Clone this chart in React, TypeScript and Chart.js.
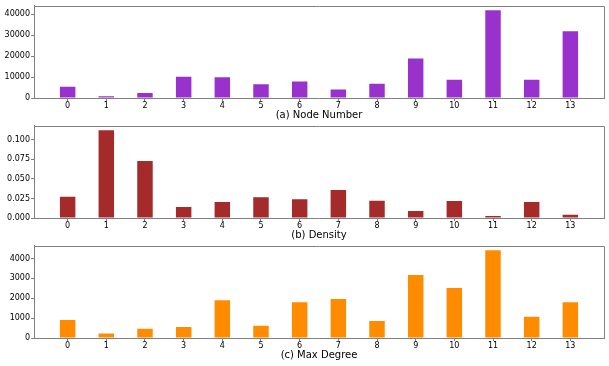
import React, { useEffect, useRef } from "react";
import { Chart, registerables } from "chart.js";

Chart.register(...registerables);

const categories = [0, 1, 2, 3, 4, 5, 6, 7, 8, 9, 10, 11, 12, 13];
const nodeNumber = [5400, 800, 2400, 10100, 9950, 6600, 7900, 4000, 6800, 18800, 8700, 41900, 8700, 31900];
const density = [0.0273, 0.1122, 0.0727, 0.014, 0.0204, 0.0264, 0.0239, 0.0357, 0.0222, 0.0089, 0.0217, 0.0026, 0.0204, 0.0043];
const maxDegree = [900, 230, 465, 550, 1900, 615, 1800, 1965, 850, 3165, 2515, 4415, 1065, 1800];
const nodeTicks = [0, 10000, 20000, 30000, 40000];
const densityTicks = [0, 0.025, 0.05, 0.075, 0.1];
const degreeTicks = [0, 1000, 2000, 3000, 4000];
const titles = ["(a) Node Number", "(b) Density", "(c) Max Degree"];

const GRAY = "#808080";
const FONT = "'DejaVu Sans', sans-serif";

const boxPlugin = {
  id: "boxSpines",
  afterDraw(chart: any) {
    const { ctx, chartArea } = chart;
    ctx.save();
    ctx.strokeStyle = GRAY;
    ctx.lineWidth = 1;
    ctx.beginPath();
    const l = Math.round(chartArea.left) + 0.5;
    const r = Math.round(chartArea.right) + 0.5;
    const t = Math.round(chartArea.top) + 0.5;
    const b = Math.round(chartArea.bottom) + 0.5;
    ctx.moveTo(l, t);
    ctx.lineTo(r, t);
    ctx.lineTo(r, b);
    ctx.stroke();
    ctx.restore();
  },
};

function Panel(props: {
  values: number[];
  color: string;
  ticks: number[];
  title: string;
  decimals: number;
  top: number;
}) {
  const ref = useRef<HTMLCanvasElement | null>(null);
  useEffect(() => {
    if (!ref.current) return;
    const maxV = Math.max(...props.values) * 1.05;
    const span = categories.length - 1 + 0.4;
    const xMin = -0.2 - span * 0.05;
    const xMax = categories.length - 1 + 0.2 + span * 0.05;
    const chart = new Chart(ref.current, {
      type: "bar",
      data: {
        datasets: [
          {
            data: categories.map((c, i) => ({ x: c, y: props.values[i] })),
            backgroundColor: props.color,
            borderWidth: 0,
            barPercentage: 0.4,
            categoryPercentage: 1,
          },
        ],
      },
      options: {
        responsive: false,
        animation: false,
        devicePixelRatio: 1,
        layout: { padding: { left: 0, right: 5, top: 5, bottom: 0 } },
        plugins: { legend: { display: false }, tooltip: { enabled: false } },
        scales: {
          x: {
            type: "linear",
            offset: false,
            min: xMin,
            max: xMax,
            afterBuildTicks: (scale: any) => {
              scale.ticks = categories.map((v) => ({ value: v }));
            },
            afterFit: (scale: any) => {
              scale.height = 23;
            },
            grid: {
              display: true,
              offset: false,
              drawOnChartArea: false,
              drawTicks: true,
              tickLength: 3,
              color: GRAY,
            },
            border: { display: true, color: GRAY, width: 1 },
            ticks: {
              padding: 0,
              maxRotation: 0,
              autoSkip: false,
              color: "#000",
              font: { family: FONT, size: 8 },
              callback: (v: any) => String(v),
            },
            title: {
              display: true,
              text: props.title,
              color: "#000",
              font: { family: FONT, size: 10 },
              padding: { top: 0, bottom: 0 },
            },
          },
          y: {
            type: "linear",
            min: 0,
            max: maxV,
            afterBuildTicks: (scale: any) => {
              scale.ticks = props.ticks.map((v) => ({ value: v }));
            },
            afterFit: (scale: any) => {
              scale.width = 34;
            },
            grid: {
              display: true,
              drawOnChartArea: false,
              drawTicks: true,
              tickLength: 3,
              color: GRAY,
            },
            border: { display: true, color: GRAY, width: 1 },
            ticks: {
              padding: 1,
              color: "#000",
              font: { family: FONT, size: 8 },
              callback: (v: any) => Number(v).toFixed(props.decimals),
            },
          },
        },
      },
      plugins: [boxPlugin],
    } as any);
    return () => chart.destroy();
  }, []);
  return (
    <canvas
      ref={ref}
      width={609}
      height={121}
      style={{ position: "absolute", left: 0, top: props.top, width: 609, height: 121 }}
    />
  );
}

export default function App() {
  return (
    <div style={{ position: "absolute", left: 0, top: 0, width: 609, height: 366, background: "#fff" }}>
      <Panel values={nodeNumber} color="#9932CC" ticks={nodeTicks} title={titles[0]} decimals={0} top={0} />
      <Panel values={density} color="#A52A2A" ticks={densityTicks} title={titles[1]} decimals={3} top={120} />
      <Panel values={maxDegree} color="#FF8C00" ticks={degreeTicks} title={titles[2]} decimals={0} top={240} />
    </div>
  );
}
